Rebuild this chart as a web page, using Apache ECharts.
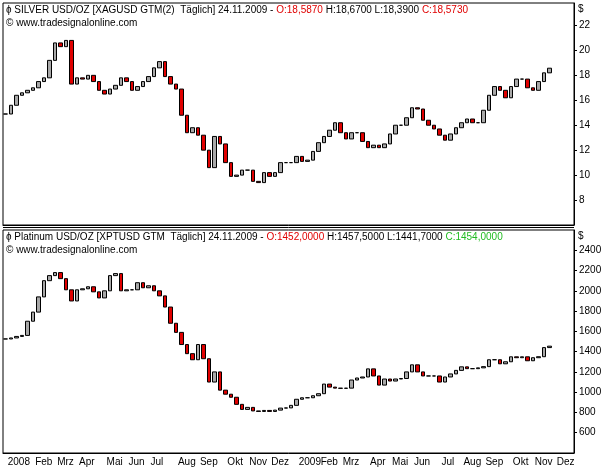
<!DOCTYPE html>
<html>
<head>
<meta charset="utf-8">
<script src="https://cdn.jsdelivr.net/npm/echarts@6/dist/echarts.min.js"></script>
<style>html,body{margin:0;padding:0;background:#fff}#main{width:609px;height:471px}</style>
</head>
<body>
<div id="main"></div>
<script>
// weekly closes (Jan 2008 .. 24.11.2009)
var silverClose = [14.9,15.6,16.4,16.6,16.8,17.0,17.5,17.8,19.2,20.6,20.3,20.8,17.3,17.8,17.7,18.0,17.5,16.8,16.5,16.9,
  17.2,17.8,17.5,16.8,17.1,17.5,17.9,18.6,19.1,17.9,17.3,16.9,14.8,13.4,13.8,13.2,12.0,10.6,13.1,12.5,
  11.0,9.9,10.0,10.4,10.4,9.5,9.4,10.2,9.9,10.2,11.0,11.0,11.0,11.5,11.1,11.2,11.9,12.6,13.1,13.6,
  14.2,13.4,12.9,13.4,13.4,12.7,12.2,12.4,12.2,12.5,13.3,14.0,14.0,14.6,15.4,15.3,14.4,14.0,13.7,13.2,
  12.8,13.3,13.8,14.2,14.5,14.2,14.2,15.2,16.4,17.1,16.8,16.2,17.1,17.7,17.7,17.0,16.8,17.5,18.2,18.573];
var platinumClose = [1525,1535,1550,1560,1700,1790,1940,2100,2150,2180,2120,2010,1900,2010,2020,2040,1990,1930,2000,2150,
  2170,2000,2010,2010,2080,2030,2050,2000,1950,1840,1680,1590,1470,1380,1320,1470,1330,1100,1200,1020,
  980,950,880,830,850,815,810,820,810,823,843,845,870,930,945,945,965,985,1080,1050,
  1040,1038,1040,1120,1140,1150,1230,1160,1070,1130,1110,1130,1135,1200,1270,1200,1160,1160,1160,1100,
  1150,1180,1215,1250,1232,1232,1240,1252,1320,1320,1280,1300,1349,1340,1349,1310,1340,1350,1440,1454];
var monthNames = ['', 'Feb', 'Mrz', 'Apr', 'Mai', 'Jun', 'Jul', 'Aug', 'Sep', 'Okt', 'Nov', 'Dez'];

// week categories, Jan 2008 through end of 2009
var weeks = [];
var d = new Date(Date.UTC(2008, 0, 1));
for (var i = 0; i < 104; i++) {
  weeks.push(d.toISOString().slice(0, 10));
  d = new Date(d.getTime() + 7 * 86400000);
}
function isMonthStart(idx) {
  if (idx === 0) return true;
  return weeks[idx].slice(5, 7) !== weeks[idx - 1].slice(5, 7);
}
function monthLabel(v) {
  var m = +v.slice(5, 7);
  return m === 1 ? v.slice(0, 4) : monthNames[m - 1];
}
function toCandles(close) {
  return close.map(function (c, i) {
    var o = i === 0 ? c : close[i - 1];
    return [o, c, Math.min(o, c), Math.max(o, c)];
  });
}

var font = 'Liberation Sans';
var chart = echarts.init(document.getElementById('main'));
var xCommon = {
  type: 'category', data: weeks, boundaryGap: true,
  axisLine: { lineStyle: { color: '#000' } },
  axisTick: { interval: function (i) { return isMonthStart(i); }, length: 4, lineStyle: { color: '#000' } },
  splitLine: { show: false }
};
var plain = function (v) { return String(v); };
var candleStyle = { color: '#a8a8a8', color0: '#e00000', borderColor: '#000', borderColor0: '#000', borderWidth: 1 };
chart.setOption({
  animation: false,
  grid: [
    { left: 3, right: 35, top: 3, height: 222, show: true, borderColor: '#000', borderWidth: 1 },
    { left: 3, right: 35, top: 230, height: 223, show: true, borderColor: '#000', borderWidth: 1 }
  ],
  xAxis: [
    Object.assign({}, xCommon, { gridIndex: 0, axisLabel: { show: false }, axisTick: { show: false } }),
    Object.assign({}, xCommon, { gridIndex: 1, axisLabel: {
      interval: function (i) { return isMonthStart(i); }, formatter: monthLabel,
      color: '#000', fontFamily: font, fontSize: 10, align: 'left', padding: [0, 0, 0, 2], margin: 4
    } })
  ],
  yAxis: [
    { gridIndex: 0, position: 'right', min: 6, max: 23.8, interval: 2,
      axisLine: { show: true, lineStyle: { color: '#000' } }, axisTick: { show: true, length: 3, lineStyle: { color: '#000' } },
      axisLabel: { showMinLabel: false, showMaxLabel: false, formatter: plain, color: '#000', fontFamily: font, fontSize: 10, margin: 5 },
      splitLine: { show: false } },
    { gridIndex: 1, position: 'right', min: 400, max: 2600, interval: 200,
      axisLine: { show: true, lineStyle: { color: '#000' } }, axisTick: { show: true, length: 3, lineStyle: { color: '#000' } },
      axisLabel: { showMinLabel: false, showMaxLabel: false, formatter: plain, color: '#000', fontFamily: font, fontSize: 10, margin: 5 },
      splitLine: { show: false } }
  ],
  series: [
    { type: 'candlestick', xAxisIndex: 0, yAxisIndex: 0, data: toCandles(silverClose), barWidth: 4, itemStyle: candleStyle },
    { type: 'candlestick', xAxisIndex: 1, yAxisIndex: 1, data: toCandles(platinumClose), barWidth: 4, itemStyle: candleStyle }
  ],
  graphic: [
    { type: 'line', shape: { x1: 3, y1: 227.5, x2: 574, y2: 227.5 }, style: { stroke: '#000', lineWidth: 1 } },
    { type: 'text', left: 578, top: 4, style: { text: '$', fontFamily: font, fontSize: 10, fill: '#000' } },
    { type: 'text', left: 578, top: 231, style: { text: '$', fontFamily: font, fontSize: 10, fill: '#000' } },
    { type: 'text', left: 6, top: 5, style: {
      text: '{b|ɸ SILVER USD/OZ [XAGUSD GTM(2)  Täglich] 24.11.2009 - }{r|O:18,5870}{b| H:18,6700 L:18,3900 }{r|C:18,5730}',
      rich: { b: { fill: '#000', fontFamily: font, fontSize: 10 }, r: { fill: '#e00000', fontFamily: font, fontSize: 10 } } } },
    { type: 'text', left: 6, top: 18, style: { text: '© www.tradesignalonline.com', fontFamily: font, fontSize: 10, fill: '#000' } },
    { type: 'text', left: 6, top: 232, style: {
      text: '{b|ɸ Platinum USD/OZ [XPTUSD GTM  Täglich] 24.11.2009 - }{r|O:1452,0000}{b| H:1457,5000 L:1441,7000 }{g|C:1454,0000}',
      rich: { b: { fill: '#000', fontFamily: font, fontSize: 10 }, r: { fill: '#e00000', fontFamily: font, fontSize: 10 },
        g: { fill: '#22bb22', fontFamily: font, fontSize: 10 } } } },
    { type: 'text', left: 6, top: 245, style: { text: '© www.tradesignalonline.com', fontFamily: font, fontSize: 10, fill: '#000' } }
  ]
});
</script>
</body>
</html>
